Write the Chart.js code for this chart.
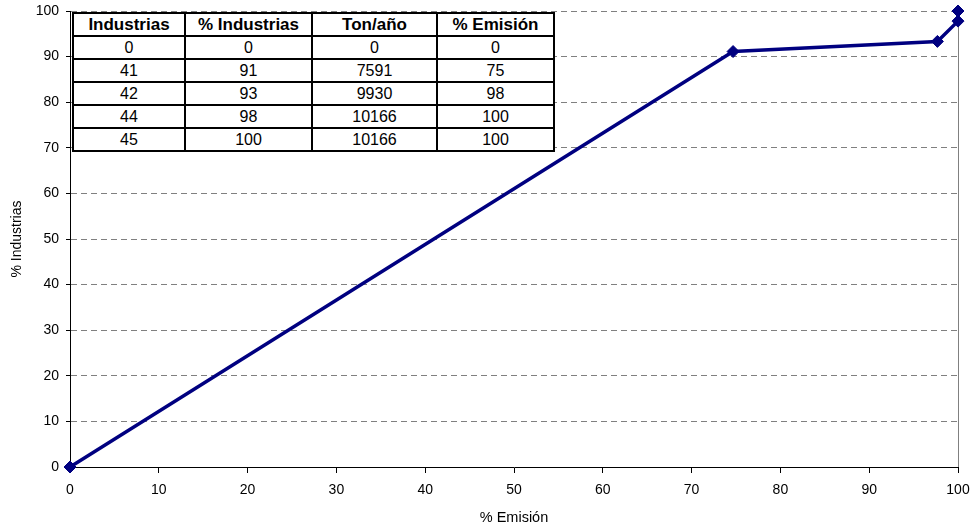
<!DOCTYPE html>
<html>
<head>
<meta charset="utf-8">
<script src="https://cdn.jsdelivr.net/npm/chart.js@4/dist/chart.umd.min.js"></script>
<style>
  html, body { margin: 0; padding: 0; background: #fff; }
  #wrap { position: relative; width: 975px; height: 527px; }
  #c { position: absolute; left: 0; top: 0; }
  #tbl {
    position: absolute; left: 72px; top: 12px; width: 481px; table-layout: fixed;
    border-collapse: collapse; background: #fff;
    font-family: "Liberation Sans", Arial, sans-serif; font-size: 16px; color: #000;
  }
  #tbl td, #tbl th {
    border: 2px solid #000; text-align: center; padding: 0; height: 21px; line-height: 19px;
    overflow: hidden; white-space: nowrap;
  }
  #tbl th { font-weight: bold; font-size: 17px; }
</style>
</head>
<body>
<div id="wrap">
  <canvas id="c" width="975" height="527"></canvas>
  <table id="tbl"></table>
</div>
<script>
// Chart series
const pctEmision    = [0, 74.67, 97.68, 100, 100];
const pctIndustrias = [0, 91.11, 93.33, 97.78, 100];

// Axis ticks
const xTicks = [0, 10, 20, 30, 40, 50, 60, 70, 80, 90, 100];
const yTicks = [0, 10, 20, 30, 40, 50, 60, 70, 80, 90, 100];

// Data table
const tableHeaders   = ['Industrias', '% Industrias', 'Ton/año', '% Emisión'];
const colIndustrias  = [0, 41, 42, 44, 45];
const colPctInd      = [0, 91, 93, 98, 100];
const colTonAnio     = [0, 7591, 9930, 10166, 10166];
const colPctEmision  = [0, 75, 98, 100, 100];

// Build table
(function () {
  const tbl = document.getElementById('tbl');
  const widths = [112, 127, 125, 117];
  let html = '<colgroup>' + widths.map(w => `<col style="width:${w}px">`).join('') + '</colgroup>';
  html += '<tr>' + tableHeaders.map(h => `<th>${h}</th>`).join('') + '</tr>';
  for (let r = 0; r < colIndustrias.length; r++) {
    html += '<tr><td>' + colIndustrias[r] + '</td><td>' + colPctInd[r] + '</td><td>' +
            colTonAnio[r] + '</td><td>' + colPctEmision[r] + '</td></tr>';
  }
  tbl.innerHTML = html;
})();

const points = pctEmision.map((x, i) => ({ x: x, y: pctIndustrias[i] }));
const fontFam = '"Liberation Sans", Arial, sans-serif';

new Chart(document.getElementById('c'), {
  type: 'scatter',
  data: {
    datasets: [{
      data: points,
      showLine: true,
      borderColor: '#000080',
      backgroundColor: '#000080',
      borderWidth: 3.5,
      pointStyle: 'rectRot',
      pointRadius: 6,
      pointHoverRadius: 6,
      pointBorderWidth: 1,
      clip: false,
      tension: 0
    }]
  },
  options: {
    responsive: false,
    animation: false,
    events: [],
    layout: { padding: { left: 0, right: 17, top: 11, bottom: 0 } },
    plugins: { legend: { display: false }, tooltip: { enabled: false } },
    scales: {
      x: {
        type: 'linear', min: 0, max: 100,
        afterBuildTicks: s => { s.ticks = xTicks.map(v => ({ value: v })); },
        afterFit: s => { s.height = 60; s.paddingLeft = 0; s.paddingRight = 0; },
        ticks: { font: { family: fontFam, size: 14 }, color: '#000', padding: 9, maxRotation: 0 },
        grid: {
          color: ctx => (ctx.tick && ctx.tick.value === 100) ? '#808080' : 'rgba(0,0,0,0)',
          tickColor: '#000', tickLength: 6, lineWidth: 1
        },
        border: { display: true, color: '#000', width: 1 },
        title: { display: true, text: '% Emisión', font: { family: fontFam, size: 14.5 }, color: '#000', padding: { top: 4, bottom: 0 } }
      },
      y: {
        type: 'linear', min: 0, max: 100,
        afterBuildTicks: s => { s.ticks = yTicks.map(v => ({ value: v })); },
        afterFit: s => { s.width = 70; s.paddingTop = 0; s.paddingBottom = 0; },
        ticks: { font: { family: fontFam, size: 14 }, color: '#000', padding: 7 },
        grid: {
          color: ctx => (ctx.tick && ctx.tick.value === 0) ? 'rgba(0,0,0,0)' : '#808080',
          tickColor: '#000', tickLength: 4, lineWidth: 1
        },
        border: { display: true, color: '#000', width: 1, dash: [6, 4] },
        title: { display: true, text: '% Industrias', font: { family: fontFam, size: 14 }, color: '#000', padding: { top: 9, bottom: 0 } }
      }
    }
  }
});
</script>
</body>
</html>
